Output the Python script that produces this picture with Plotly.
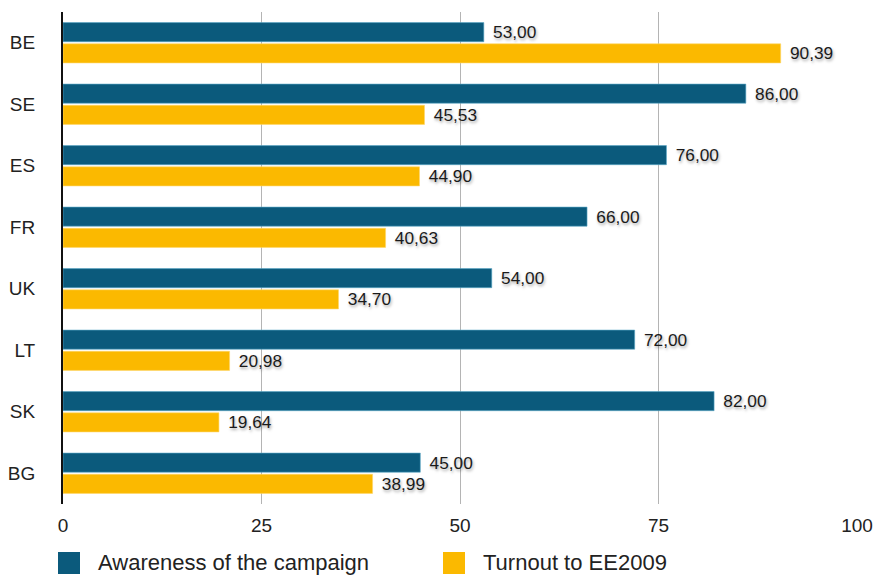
import plotly.graph_objects as go

countries = ["BE", "SE", "ES", "FR", "UK", "LT", "SK", "BG"]
awareness = [53.00, 86.00, 76.00, 66.00, 54.00, 72.00, 82.00, 45.00]
turnout = [90.39, 45.53, 44.90, 40.63, 34.70, 20.98, 19.64, 38.99]
x_ticks = [0, 25, 50, 75, 100]
series_names = ["Awareness of the campaign", "Turnout to EE2009"]
series_colors = ["#0b5a7c", "#fbb900"]

font_family = "Liberation Sans, Arial, sans-serif"
shadow = "1px 2px 3px rgba(0,0,0,0.35)"

W, H = 880, 577
ML, MR, MT, MB = 63, 23, 12, 73
PW, PH = W - ML - MR, H - MT - MB

fig = go.Figure()
for vals, name, color, edge in [
    (awareness, series_names[0], series_colors[0], "#5aa8c8"),
    (turnout, series_names[1], series_colors[1], "#ffd66a"),
]:
    fig.add_trace(go.Bar(
        y=countries, x=vals, orientation="h", name=name,
        marker=dict(color=color, line=dict(color=edge, width=0.6)),
        texttemplate=" \u200a%{x:.2f}", textposition="outside",
        textfont=dict(size=19, color="#1a1a1a", family=font_family, shadow=shadow),
        cliponaxis=False, showlegend=False,
    ))

def px_x(p):
    return (p - ML) / PW

def px_y(p):
    return 1 - (p - MT) / PH

# legend drawn as squares + text below the axis
legend_x = [58, 443]
for name, color, lx in zip(series_names, series_colors, legend_x):
    fig.add_shape(type="rect", xref="paper", yref="paper",
                  x0=px_x(lx), x1=px_x(lx + 22),
                  y0=px_y(552), y1=px_y(574),
                  fillcolor=color, line=dict(width=0))
    fig.add_annotation(text=name, xref="paper", yref="paper",
                       x=px_x(lx + 38), y=px_y(562),
                       xanchor="left", yanchor="middle", showarrow=False,
                       font=dict(size=22, color="#222", family=font_family))

fig.update_layout(
    width=W, height=H,
    margin=dict(l=ML, r=MR, t=MT, b=MB, autoexpand=False),
    paper_bgcolor="white", plot_bgcolor="white",
    barmode="group", bargap=0.31, bargroupgap=0.1,
    separators=", ",
    font=dict(family=font_family, size=19, color="#222"),
    showlegend=False,
    xaxis=dict(
        range=[0, 100], tickvals=x_ticks, ticktext=[str(v) for v in x_ticks],
        showgrid=True, gridcolor="#b4b4b4", gridwidth=1.3, zeroline=False,
        showline=False, ticks="", tickfont=dict(size=19, color="#222"),
        ticklabelstandoff=8,
    ),
    yaxis=dict(
        categoryorder="array", categoryarray=countries, autorange="reversed",
        showgrid=False, showline=True, linecolor="#111", linewidth=2,
        ticks="", tickfont=dict(size=19, color="#222"), ticklabelstandoff=22,
    ),
)

fig.write_html("out.html")
